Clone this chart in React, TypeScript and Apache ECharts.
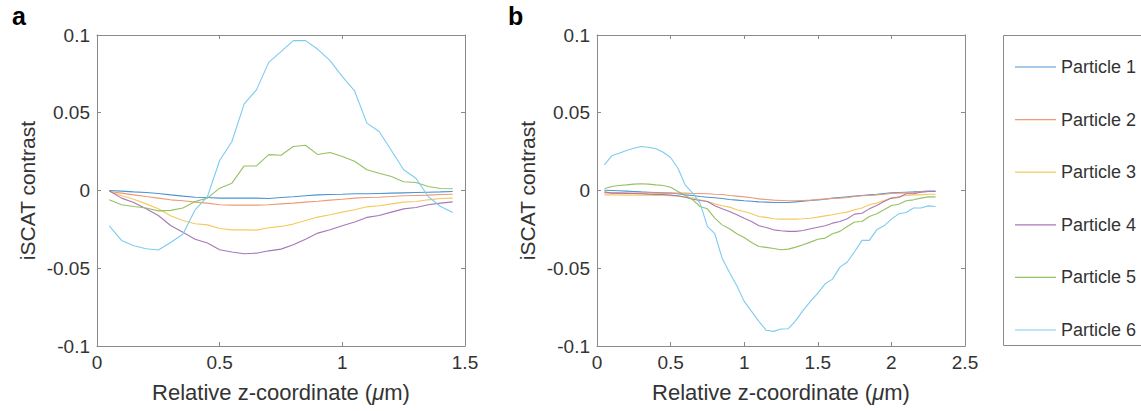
import React, { useEffect, useRef } from "react";
import * as echarts from "echarts";

const names = ["Particle 1", "Particle 2", "Particle 3", "Particle 4", "Particle 5", "Particle 6"];
const colors = ["#4d94d0", "#ee9a78", "#f5c95e", "#a877b8", "#93c263", "#7dcbef"];
const yTicks = [-0.1, -0.05, 0, 0.05, 0.1];

const xA = [0.05, 0.1, 0.15, 0.2, 0.25, 0.3, 0.35, 0.4, 0.45, 0.5, 0.55, 0.6, 0.65, 0.7, 0.75, 0.8, 0.85, 0.9, 0.95, 1.0, 1.05, 1.1, 1.15, 1.2, 1.25, 1.3, 1.35, 1.4, 1.45];
const p1a = [0, -0.0004, -0.0009, -0.0013, -0.0019, -0.0028, -0.0036, -0.0043, -0.0045, -0.0049, -0.0049, -0.0049, -0.0049, -0.0051, -0.0045, -0.004, -0.0034, -0.0028, -0.0026, -0.0024, -0.0021, -0.0021, -0.0019, -0.0017, -0.0015, -0.0013, -0.0011, -0.0009, -0.0006];
const p2a = [-0.0006, -0.0017, -0.0028, -0.0039, -0.0049, -0.006, -0.0066, -0.0075, -0.0081, -0.0092, -0.0094, -0.0094, -0.0094, -0.0092, -0.0086, -0.0081, -0.0075, -0.0069, -0.0062, -0.0056, -0.0049, -0.0045, -0.0043, -0.0039, -0.0034, -0.0032, -0.003, -0.0026, -0.0024];
const p3a = [-0.0004, -0.0034, -0.0056, -0.0086, -0.0118, -0.0163, -0.0193, -0.0214, -0.0221, -0.0244, -0.0253, -0.0253, -0.0255, -0.024, -0.0231, -0.0216, -0.0193, -0.0171, -0.0156, -0.0139, -0.0124, -0.0105, -0.0098, -0.0086, -0.0075, -0.0071, -0.006, -0.0051, -0.0049];
const p4a = [-0.0002, -0.0049, -0.0077, -0.0118, -0.0161, -0.0225, -0.0268, -0.0313, -0.0338, -0.0381, -0.0396, -0.0407, -0.0403, -0.0388, -0.0377, -0.0349, -0.0313, -0.0274, -0.0253, -0.0227, -0.0203, -0.0173, -0.0161, -0.0139, -0.0118, -0.0109, -0.0092, -0.0081, -0.0073];
const p5a = [-0.006, -0.0092, -0.0103, -0.0113, -0.0131, -0.0128, -0.0113, -0.0071, -0.0049, 0.0015, 0.0047, 0.0158, 0.0158, 0.0231, 0.0227, 0.0283, 0.0291, 0.0231, 0.0244, 0.0218, 0.0188, 0.0133, 0.0111, 0.009, 0.0056, 0.0051, 0.0026, 0.0013, 0.0011];
const p6a = [-0.0227, -0.0321, -0.0355, -0.0375, -0.0383, -0.0334, -0.0281, -0.0124, -0.004, 0.0193, 0.0315, 0.0557, 0.0647, 0.0824, 0.0893, 0.0964, 0.0964, 0.0908, 0.0835, 0.0732, 0.064, 0.0433, 0.0379, 0.0257, 0.0133, 0.0079, -0.0039, -0.0103, -0.0141];

const xB = [0.05, 0.1, 0.15, 0.2, 0.25, 0.3, 0.35, 0.4, 0.45, 0.5, 0.55, 0.6, 0.65, 0.7, 0.75, 0.8, 0.85, 0.9, 0.95, 1.0, 1.05, 1.1, 1.15, 1.2, 1.25, 1.3, 1.35, 1.4, 1.45, 1.5, 1.55, 1.6, 1.65, 1.7, 1.75, 1.8, 1.85, 1.9, 1.95, 2.0, 2.05, 2.1, 2.15, 2.2, 2.25, 2.3];
const p1b = [0.0002, 0, -0.0002, -0.0004, -0.0006, -0.0009, -0.0011, -0.0013, -0.0015, -0.0017, -0.0021, -0.0028, -0.0032, -0.0039, -0.0043, -0.0047, -0.0051, -0.0058, -0.0062, -0.0066, -0.0069, -0.0073, -0.0075, -0.0077, -0.0077, -0.0077, -0.0073, -0.0069, -0.0064, -0.006, -0.0056, -0.0049, -0.0045, -0.0041, -0.0036, -0.0032, -0.0028, -0.0024, -0.0019, -0.0015, -0.0013, -0.0011, -0.0009, -0.0006, -0.0004, -0.0004];
const p2b = [-0.0015, -0.0015, -0.0015, -0.0015, -0.0017, -0.0017, -0.0017, -0.0017, -0.0017, -0.0017, -0.0017, -0.0017, -0.0019, -0.0019, -0.0021, -0.0024, -0.0026, -0.0032, -0.0036, -0.0041, -0.0047, -0.0054, -0.0058, -0.0062, -0.0064, -0.0066, -0.0066, -0.0064, -0.0062, -0.0058, -0.0054, -0.0051, -0.0049, -0.0045, -0.0039, -0.0034, -0.0032, -0.0028, -0.0024, -0.0019, -0.0017, -0.0015, -0.0013, -0.0009, -0.0006, -0.0006];
const p3b = [-0.0028, -0.0028, -0.0028, -0.003, -0.003, -0.003, -0.003, -0.0032, -0.0032, -0.0034, -0.0036, -0.0043, -0.0049, -0.006, -0.0071, -0.0086, -0.0098, -0.0107, -0.0124, -0.0135, -0.015, -0.0167, -0.0173, -0.0182, -0.0184, -0.0184, -0.0184, -0.0182, -0.0178, -0.0171, -0.0163, -0.0156, -0.0146, -0.0139, -0.0124, -0.0113, -0.0092, -0.0081, -0.0064, -0.0049, -0.0039, -0.0032, -0.0028, -0.0028, -0.0024, -0.0024];
const p4b = [-0.0009, -0.0017, -0.0017, -0.0019, -0.0019, -0.0021, -0.0024, -0.0026, -0.0026, -0.003, -0.0034, -0.0043, -0.0056, -0.0064, -0.0071, -0.0098, -0.0118, -0.0135, -0.0156, -0.0178, -0.0199, -0.0227, -0.0238, -0.0253, -0.0259, -0.0263, -0.0263, -0.0257, -0.0246, -0.0236, -0.0227, -0.021, -0.0199, -0.0182, -0.0152, -0.0146, -0.0118, -0.0096, -0.0071, -0.0049, -0.0045, -0.0021, -0.0021, -0.0011, -0.0006, -0.0006];
const p5b = [0.0011, 0.0026, 0.0032, 0.0036, 0.0041, 0.0043, 0.0041, 0.0036, 0.0032, 0.0021, -0.0006, -0.0032, -0.006, -0.0103, -0.0118, -0.0178, -0.0221, -0.0246, -0.0278, -0.0302, -0.0334, -0.036, -0.0366, -0.0373, -0.0381, -0.0377, -0.0364, -0.0349, -0.0332, -0.0313, -0.0306, -0.0278, -0.0263, -0.0231, -0.0203, -0.0199, -0.0167, -0.015, -0.0124, -0.0096, -0.0088, -0.0066, -0.006, -0.0049, -0.0041, -0.0041];
const p6b = [0.0165, 0.0223, 0.024, 0.0257, 0.0272, 0.0283, 0.0278, 0.0268, 0.0246, 0.0212, 0.0143, 0.0034, -0.0017, -0.0081, -0.0231, -0.0278, -0.0435, -0.0527, -0.0612, -0.0713, -0.0777, -0.0842, -0.0899, -0.0906, -0.0891, -0.0889, -0.0837, -0.0771, -0.0713, -0.066, -0.06, -0.057, -0.0493, -0.046, -0.0394, -0.0321, -0.0321, -0.0253, -0.0227, -0.0184, -0.015, -0.0141, -0.0113, -0.0113, -0.0099, -0.0103];

const panelA = [p1a, p2a, p3a, p4a, p5a, p6a];
const panelB = [p1b, p2b, p3b, p4b, p5b, p6b];

const FONT = "'Liberation Sans', Arial, sans-serif";
const AXIS_COLOR = "#8a8a8a";
const TEXT_COLOR = "#333333";

function fmtY(v: number) {
  const r = Math.round(v * 1000) / 1000;
  if (r === 0) return "0";
  return String(r);
}

export default function App() {
  const ref = useRef<HTMLDivElement>(null);
  useEffect(() => {
    if (!ref.current) return;
    const chart = echarts.init(ref.current, undefined, { renderer: "svg" });

    const grids = [
      { left: 97, top: 35, width: 368, height: 311 },
      { left: 597, top: 35, width: 368, height: 311 },
    ];
    const xMax = [1.5, 2.5];
    const lineOpt = { show: true, onZero: false, lineStyle: { color: AXIS_COLOR, width: 1 } };
    const tickOpt = { show: true, inside: true, length: 4, lineStyle: { color: AXIS_COLOR } };

    const xAxes: any[] = [];
    const yAxes: any[] = [];
    [0, 1].forEach((g) => {
      xAxes.push({
        type: "value",
        gridIndex: g,
        min: 0,
        max: xMax[g],
        interval: 0.5,
        position: "bottom",
        name: "Relative z-coordinate ({mu|\u03bc}m)",
        nameLocation: "middle",
        nameGap: 35,
        nameTextStyle: {
          fontFamily: FONT,
          fontSize: 22,
          color: TEXT_COLOR,
          rich: { mu: { fontFamily: FONT, fontSize: 22, fontStyle: "italic", color: TEXT_COLOR } },
        },
        axisLine: lineOpt,
        axisTick: tickOpt,
        axisLabel: { fontFamily: FONT, fontSize: 19, color: TEXT_COLOR, margin: 7 },
        splitLine: { show: false },
      });
      xAxes.push({
        type: "value",
        gridIndex: g,
        min: 0,
        max: xMax[g],
        interval: 0.5,
        position: "top",
        axisLine: lineOpt,
        axisTick: tickOpt,
        axisLabel: { show: false },
        splitLine: { show: false },
      });
      yAxes.push({
        type: "value",
        gridIndex: g,
        min: yTicks[0],
        max: yTicks[yTicks.length - 1],
        interval: 0.05,
        position: "left",
        name: "iSCAT contrast",
        nameLocation: "middle",
        nameGap: 59,
        nameTextStyle: { fontFamily: FONT, fontSize: 21, color: TEXT_COLOR },
        axisLine: lineOpt,
        axisTick: tickOpt,
        axisLabel: { fontFamily: FONT, fontSize: 19, color: TEXT_COLOR, margin: 7, formatter: fmtY },
        splitLine: { show: false },
      });
      yAxes.push({
        type: "value",
        gridIndex: g,
        min: yTicks[0],
        max: yTicks[yTicks.length - 1],
        interval: 0.05,
        position: "right",
        axisLine: lineOpt,
        axisTick: tickOpt,
        axisLabel: { show: false },
        splitLine: { show: false },
      });
    });

    const series: any[] = [];
    panelA.forEach((vals, i) => {
      series.push({
        type: "line",
        name: names[i],
        xAxisIndex: 0,
        yAxisIndex: 0,
        data: xA.map((x, k) => [x, vals[k]]),
        showSymbol: false,
        lineStyle: { color: colors[i], width: 1.1 },
        itemStyle: { color: colors[i] },
      });
    });
    panelB.forEach((vals, i) => {
      series.push({
        type: "line",
        name: names[i],
        xAxisIndex: 2,
        yAxisIndex: 2,
        data: xB.map((x, k) => [x, vals[k]]),
        showSymbol: false,
        lineStyle: { color: colors[i], width: 1.1 },
        itemStyle: { color: colors[i] },
      });
    });

    chart.setOption({
      animation: false,
      backgroundColor: "#ffffff",
      grid: grids,
      xAxis: xAxes,
      yAxis: yAxes,
      series,
      legend: {
        data: names.map((n) => ({ name: n, icon: "rect" })),
        orient: "vertical",
        left: 1010,
        top: 52,
        itemWidth: 41,
        itemHeight: 1.2,
        itemGap: 32.6,
        textStyle: { fontFamily: FONT, fontSize: 18, color: TEXT_COLOR, lineHeight: 20 },
        selectedMode: false,
      },
      graphic: [
        {
          type: "rect",
          shape: { x: 1003.5, y: 35.5, width: 200, height: 310 },
          style: { fill: "none", stroke: AXIS_COLOR, lineWidth: 1 },
          silent: true,
        },
        {
          type: "text",
          x: 12,
          y: 28,
          style: { text: "a", fontFamily: FONT, fontSize: 25, fontWeight: "bold", fill: "#000", textVerticalAlign: "bottom" },
        },
        {
          type: "text",
          x: 508,
          y: 28,
          style: { text: "b", fontFamily: FONT, fontSize: 25, fontWeight: "bold", fill: "#000", textVerticalAlign: "bottom" },
        },
      ],
    });
    return () => chart.dispose();
  }, []);
  return <div ref={ref} style={{ position: "absolute", left: 0, top: 0, width: 1141, height: 411 }} />;
}
